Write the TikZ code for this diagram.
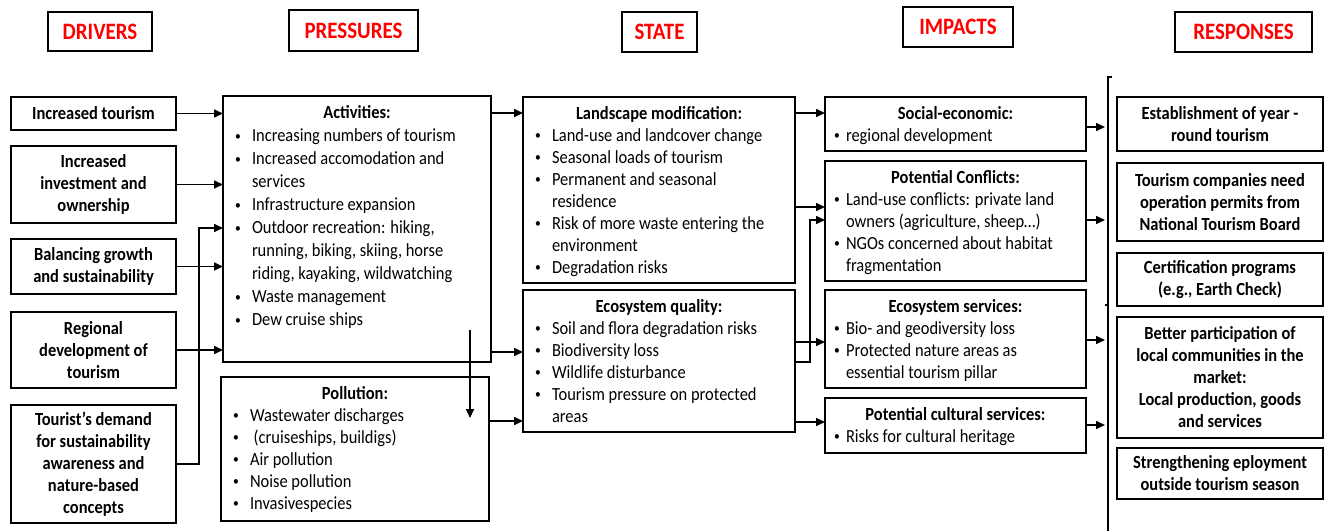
\documentclass[tikz,border=0pt]{standalone}
\usepackage{fontspec}
\setmainfont{Carlito}[FakeStretch=0.89]
\usetikzlibrary{arrows.meta}

% bullet offset and text offset inside list panels
\newlength\bulx \setlength\bulx{6pt}
\newlength\txtx \setlength\txtx{23pt}
\newcommand\smallbullet{\raisebox{1.5pt}{\fontsize{13}{13}\selectfont\textbullet}}
\newcommand\itm[1]{\par\hangindent=\txtx\hangafter=1\noindent
  \makebox[\txtx][l]{\hspace*{\bulx}\smallbullet}\strut#1\par}
\newcommand\ttl[1]{{\centering\bfseries\strut#1\par}}
% \panel{name}{left}{top}{width}{height}{body}
\newcommand\panel[6]{\node[panel,anchor=north west] (#1) at (#2,#3)
  {\parbox[t][#5pt][t]{\dimexpr#4pt-12pt\relax}{\vspace*{6.6pt}#6}};}

\tikzset{
  panel/.style={draw,line width=1.6pt,inner xsep=6pt,inner ysep=0pt,outer sep=0pt,
    font=\fontsize{18.5}{22}\selectfont},
  cbox/.style={draw,line width=1.6pt,inner sep=0pt,outer sep=0pt,align=center,
    anchor=north west,font=\bfseries\fontsize{18.5}{22}\selectfont},
  hdr/.style={draw,line width=2.2pt,inner sep=0pt,outer sep=0pt,anchor=north west,
    text=red,font=\bfseries\fontsize{23.5}{28}\selectfont},
  wire/.style={line width=1.6pt},
  arr/.style={wire,-{Triangle[length=9pt,width=8pt]}},
}

\begin{document}
\begin{tikzpicture}[x=1pt,y=-1pt]
\useasboundingbox (0,0) rectangle (1331,531);

% column headers
\node[hdr,minimum width=104pt,minimum height=39pt] (hd) at (48,12) {DRIVERS};
\node[hdr,minimum width=129pt,minimum height=41pt] (hp) at (289,10) {PRESSURES};
\node[hdr,minimum width=75pt,minimum height=40pt] (hs) at (622,12) {STATE};
\node[hdr,minimum width=110pt,minimum height=40pt] (hi) at (903,7) {IMPACTS};
\node[hdr,minimum width=137pt,minimum height=40pt] (hr) at (1175,12) {RESPONSES};

% drivers
\node[cbox,minimum width=165pt,minimum height=33pt] (d1) at (11,97) {Increased tourism};
\node[cbox,minimum width=165pt,minimum height=77pt] (d2) at (11,146) {Increased\\investment and\\ownership};
\node[cbox,minimum width=165pt,minimum height=55pt] (d3) at (11,239) {Balancing growth\\and sustainability};
\node[cbox,minimum width=165pt,minimum height=76pt] (d4) at (11,312) {Regional\\development of\\tourism};
\node[cbox,minimum width=165pt,minimum height=118pt] (d5) at (11,405) {Tourist’s demand\\for sustainability\\awareness and\\nature-based\\concepts};

% pressures
\panel{act}{223}{96}{268}{266}{\fontsize{18.5}{23}\selectfont
  \ttl{Activities:}
  \itm{Increasing numbers of tourism}
  \itm{Increased accomodation and\\services}
  \itm{Infrastructure expansion}
  \itm{Outdoor recreation: hiking,\\running, biking, skiing, horse\\riding, kayaking, wildwatching}
  \itm{Waste management}
  \itm{Dew cruise ships}}
\panel{pol}{221}{377}{268}{144}{
  \ttl{Pollution:}
  \itm{Wastewater discharges}
  \itm{\ (cruiseships, buildigs)}
  \itm{Air pollution}
  \itm{Noise pollution}
  \itm{Invasivespecies}}

% state
\panel{land}{523}{97}{272}{186}{
  \ttl{Landscape modification:}
  \itm{Land-use and landcover change}
  \itm{Seasonal loads of tourism}
  \itm{Permanent and seasonal\\residence}
  \itm{Risk of more waste entering the\\environment}
  \itm{Degradation risks}}
\panel{eq}{523}{290}{272}{142}{
  \ttl{Ecosystem quality:}
  \itm{Soil and flora degradation risks}
  \itm{Biodiversity loss}
  \itm{Wildlife disturbance}
  \itm{Tourism pressure on protected\\areas}}

% impacts
\setlength\bulx{3pt}\setlength\txtx{15pt}
\panel{soc}{825}{97}{261}{54}{
  \ttl{Social-economic:}
  \itm{regional development}}
\panel{conf}{825}{161}{261}{120}{
  \ttl{Potential Conflicts:}
  \itm{Land-use conflicts: private land\\owners (agriculture, sheep…)}
  \itm{NGOs concerned about habitat\\fragmentation}}
\panel{es}{825}{290}{261}{98}{
  \ttl{Ecosystem services:}
  \itm{Bio- and geodiversity loss}
  \itm{Protected nature areas as\\essential tourism pillar}}
\panel{cult}{825}{398}{261}{55}{
  \ttl{Potential cultural services:}
  \itm{Risks for cultural heritage}}

% responses
\node[cbox,minimum width=206pt,minimum height=54pt] (r1) at (1117,97) {Establishment of year -\\round tourism};
\node[cbox,minimum width=206pt,minimum height=78pt] (r2) at (1117,163) {Tourism companies need\\operation permits from\\National Tourism Board};
\node[cbox,minimum width=206pt,minimum height=53pt] (r3) at (1117,253) {Certification programs\\(e.g., Earth Check)};
\node[cbox,minimum width=206pt,minimum height=121pt] (r4) at (1117,317) {Better participation of\\local communities in the\\market:\\Local production, goods\\and services};
\node[cbox,minimum width=206pt,minimum height=51pt] (r5) at (1117,448) {Strengthening eployment\\outside tourism season};

% collecting bar in front of the responses
\coordinate (bartop) at (1108,77);
\coordinate (barbot) at (1108,531);
\coordinate (barhook) at (1112,77);
\coordinate (barmid) at (1108,305);
\draw[wire] (barhook) -- (bartop) -- (barbot);
\draw[wire] (barmid) -- ++(-3,0);

% drivers -> activities
\draw[arr] (d1.east) -- (d1.east -| act.west);
\draw[arr] (d2.east) -- (d2.east -| act.west);
\draw[arr] (d3.east) -- (d3.east -| act.west);
\draw[arr] (d4.east) -- (d4.east -| act.west);
\draw[arr] (d5.east) -- ++(23,0) |- ([yshift=-132pt]act.north west);

% pressures -> state
\draw[arr] ([yshift=-17pt]act.north east) -- ([yshift=-16pt]land.north west);
\draw[arr] ([yshift=10pt]act.south east) -- ([yshift=-62pt]eq.north west);
\draw[arr] ([xshift=-21pt,yshift=32pt]act.south east) -- ([xshift=-19pt,yshift=-41pt]pol.north east);
\draw[arr] ([yshift=-44pt]pol.north east) -- ([yshift=11pt]eq.south west);

% state -> impacts
\draw[arr] ([yshift=-16pt]land.north east) -- ([yshift=-16pt]soc.north west);
\draw[arr] ([yshift=-110pt]land.north east) -- ([yshift=-46pt]conf.north west);
\draw[arr] ([yshift=-52pt]eq.north east) -- ([yshift=-52pt]es.north west);
\draw[arr] ([yshift=-72pt]eq.north east) -- ++(15,0) |- ([yshift=-59pt]conf.north west);
\draw[arr] ([yshift=10pt]eq.south east) -- ([yshift=-24pt]cult.north west);

% impacts -> responses bar
\draw[arr] ([yshift=-30pt]soc.north east) -- ++(19,0);
\draw[arr] ([yshift=-59pt]conf.north east) -- ++(19,0);
\draw[arr] ([yshift=-50pt]es.north east) -- ++(19,0);
\draw[arr] ([yshift=-27pt]cult.north east) -- ++(19,0);
\end{tikzpicture}
\end{document}
